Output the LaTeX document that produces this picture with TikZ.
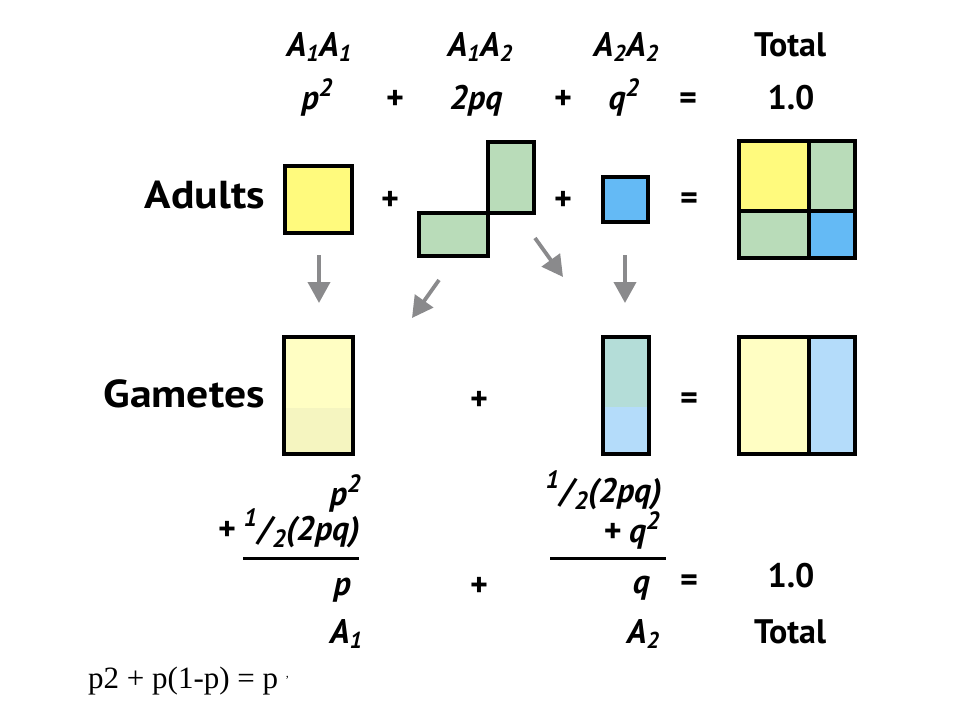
\documentclass[tikz,border=0pt]{standalone}
\usepackage{fontspec}
\setmainfont{PT Sans}
\newfontfamily\notefont{Liberation Serif}
\usetikzlibrary{arrows.meta}
\definecolor{adultyellow}{HTML}{FFFA7D}
\definecolor{adultgreen}{HTML}{B9DCB9}
\definecolor{adultblue}{HTML}{64BAF5}
\definecolor{gamyellow}{HTML}{FFFEC3}
\definecolor{gamyellowlow}{HTML}{F5F5C0}
\definecolor{gamteal}{HTML}{B4DDD8}
\definecolor{gamblue}{HTML}{B4DCFA}
\definecolor{arrowgray}{HTML}{8A8A8C}
\newcommand\bigbf{\fontsize{34}{40}\selectfont\bfseries}
\newcommand\rowbf{\fontsize{39}{44}\selectfont\bfseries}
\newcommand\lonum[1]{\raisebox{-0.16em}{\fontsize{23}{23}\selectfont #1}}
\newcommand\hinum[1]{\raisebox{0.36em}{\fontsize{25}{25}\selectfont #1}}
\newcommand\half{\raisebox{0.4em}{\fontsize{25}{25}\selectfont 1}\kern1pt/\kern1pt\raisebox{-0.22em}{\fontsize{25}{25}\selectfont 2}}
\tikzset{
  lbl/.style={font=\bigbf,inner sep=0pt,anchor=base},
  ital/.style={font=\bigbf\itshape,inner sep=0pt,anchor=base},
  rowlbl/.style={font=\rowbf,inner sep=0pt,anchor=base east,xscale=1.12},
  box/.style={draw=black,line width=4pt},
  flow/.style={draw=arrowgray,line width=3.8pt,-{Triangle[length=21pt,width=22pt]}},
  rule/.style={draw=black,line width=3pt},
  note/.style={font=\notefont\fontsize{31}{34}\selectfont,inner sep=0pt,anchor=base west}
}
\begin{document}
\begin{tikzpicture}[x=1pt,y=-1pt]
  \useasboundingbox (0,0) rectangle (960,720);
  \node[ital] (hAA) at (319,56) {A\lonum{1}A\lonum{1}};
  \node[ital] (hAa) at (480,56) {A\lonum{1}A\lonum{2}};
  \node[ital] (haa) at (626,56) {A\lonum{2}A\lonum{2}};
  \node[lbl] (htot) at (790,56) {Total};
  \node[ital] (fAA) at (317,109) {p\hinum{2}};
  \node[lbl] (fp1) at (395,109) {+};
  \node[ital] (fAa) at (476,109) {2pq};
  \node[lbl] (fp2) at (563,109) {+};
  \node[ital] (faa) at (624,109) {q\hinum{2}};
  \node[lbl] (feq) at (688,109) {=};
  \node[lbl] (fone) at (791,109) {1.0};

  \node[rowlbl] (adults) at (265,208) {Adults};
  \draw[box,fill=adultyellow] (285,166) rectangle (352,233);
  \node[lbl] (ap1) at (390,210) {+};
  \draw[box,fill=adultgreen] (419,213) rectangle (488,256);
  \draw[box,fill=adultgreen] (488,142) rectangle (534,213);
  \node[lbl] (ap2) at (563,210) {+};
  \draw[box,fill=adultblue] (603,177) rectangle (648,222);
  \node[lbl] (aeq) at (689,209) {=};
  \fill[adultyellow] (739,141) rectangle (809,211);
  \fill[adultgreen] (809,141) rectangle (855,211);
  \fill[adultgreen] (739,211) rectangle (809,258);
  \fill[adultblue] (809,211) rectangle (855,258);
  \draw[box] (739,141) rectangle (855,258) (809,141) -- (809,258) (739,211) -- (855,211);

  \coordinate (s1) at (319,255);  \coordinate (t1) at (319,303);
  \coordinate (s2) at (439,280);  \coordinate (t2) at (412,318);
  \coordinate (s3) at (535,238);  \coordinate (t3) at (563,277);
  \coordinate (s4) at (625,255);  \coordinate (t4) at (625,303);
  \draw[flow] (s1) -- (t1);
  \draw[flow] (s2) -- (t2);
  \draw[flow] (s3) -- (t3);
  \draw[flow] (s4) -- (t4);

  \node[rowlbl] (gametes) at (265,407) {Gametes};
  \fill[gamyellow] (284,337) rectangle (353,408);
  \fill[gamyellowlow] (284,408) rectangle (353,454);
  \draw[box] (284,337) rectangle (353,454);
  \node[lbl] (gp) at (479,410) {+};
  \fill[gamteal] (603,337) rectangle (649,407);
  \fill[gamblue] (603,407) rectangle (649,454);
  \draw[box] (603,337) rectangle (649,454);
  \node[lbl] (geq) at (689,409) {=};
  \fill[gamyellow] (739,337) rectangle (809,454);
  \fill[gamblue] (809,337) rectangle (855,454);
  \draw[box] (739,337) rectangle (855,454) (809,337) -- (809,454);

  \node[ital,anchor=base east] (sumAtop) at (361,505) {p\hinum{2}};
  \node[ital,anchor=base east] (sumAmid) at (360,540) {+ \half(2pq)};
  \coordinate (ruleAl) at (243,558); \coordinate (ruleAr) at (359,558);
  \draw[rule] (ruleAl) -- (ruleAr);
  \node[ital,anchor=base east] (sumA) at (351,595) {p};
  \node[ital,anchor=base east] (sumBtop) at (662,502) {\half(2pq)};
  \node[ital,anchor=base east] (sumBmid) at (660,542) {+ q\hinum{2}};
  \coordinate (ruleBl) at (550,558); \coordinate (ruleBr) at (666,558);
  \draw[rule] (ruleBl) -- (ruleBr);
  \node[ital,anchor=base east] (sumB) at (650,593) {q};
  \node[lbl] (bp) at (479,596) {+};
  \node[lbl] (beq) at (689,591) {=};
  \node[lbl] (bone) at (791,587) {1.0};
  \node[ital] (bA1) at (346,643) {A\lonum{1}};
  \node[ital] (bA2) at (643,643) {A\lonum{2}};
  \node[lbl] (btot) at (790,643) {Total};

  \node[note] (check) at (88,688) {p2 + p(1-p) = p \raisebox{0.35em}{\fontsize{12}{12}\selectfont ,}};
\end{tikzpicture}
\end{document}
